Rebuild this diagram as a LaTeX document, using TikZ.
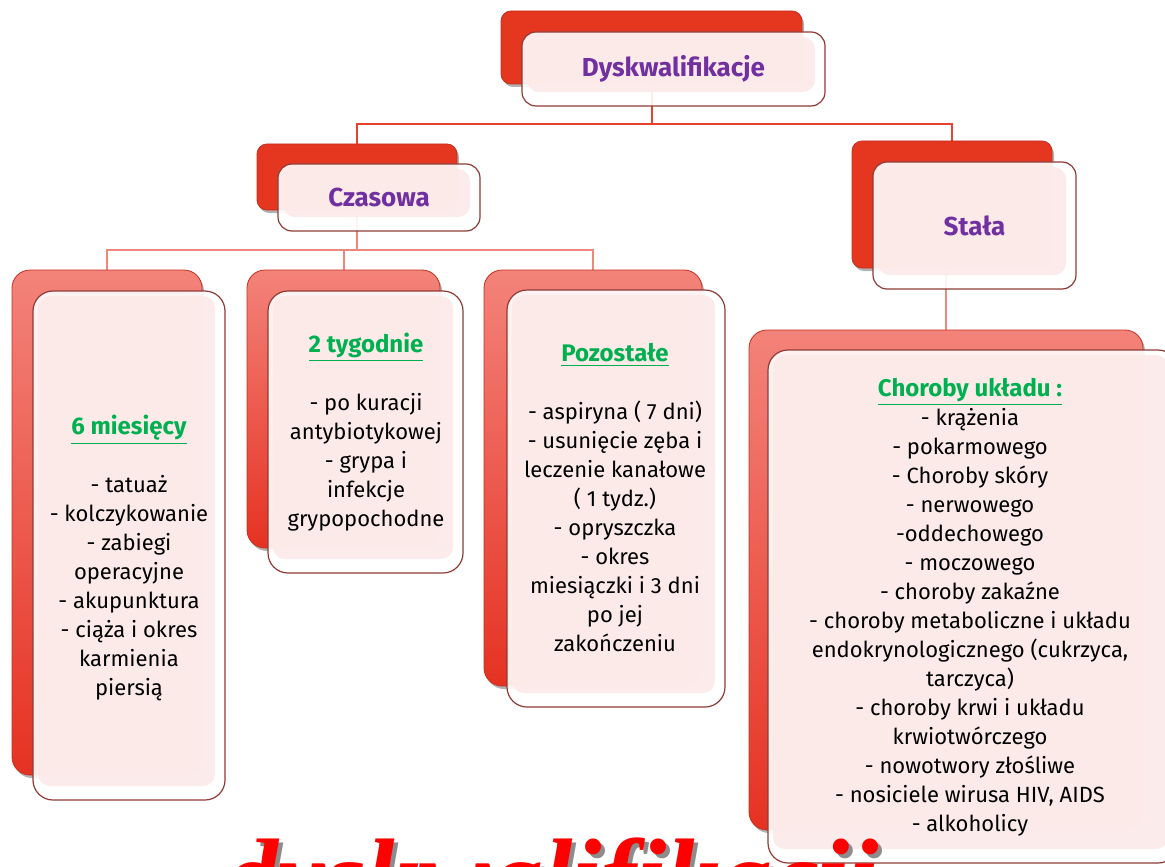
\documentclass[tikz,border=0pt]{standalone}
\usepackage{fontspec}
\setmainfont{Fira Sans}
\newfontfamily\bigserif{Liberation Serif}
\usetikzlibrary{backgrounds,shadows}

\definecolor{bigred}{HTML}{E5361F}
\definecolor{redtop}{HTML}{F3837A}
\definecolor{redbot}{HTML}{E53222}
\definecolor{redline}{HTML}{C2301F}
\definecolor{frame}{HTML}{8E3B36}
\definecolor{pinkfill}{HTML}{FCEAE9}
\definecolor{linkred}{HTML}{E8412F}
\definecolor{linksalmon}{HTML}{F0877D}
\definecolor{titlepurple}{HTML}{7030A0}
\definecolor{titlegreen}{HTML}{00B050}
\definecolor{wordred}{HTML}{FF0000}

\tikzset{every node/.style={inner sep=0pt,outer sep=0pt}}
\tikzset{topback/.style={rounded corners=5pt,draw=redline,line width=0.4pt,fill=bigred,
    drop shadow={shadow xshift=1pt,shadow yshift=-1.5pt,opacity=.3,fill=black}}}
\tikzset{lowback/.style={rounded corners=9pt,draw=redline,line width=0.4pt,top color=redtop,bottom color=redbot,
    drop shadow={shadow xshift=1pt,shadow yshift=-1.5pt,opacity=.3,fill=black}}}
\tikzset{front/.style={rounded corners=7pt,draw=frame,line width=0.6pt,fill=white,fill opacity=0.9,text opacity=1,
    path picture={\fill[pinkfill,rounded corners=6pt]
      ([shift={(2.5pt,-2.5pt)}]path picture bounding box.north west) rectangle
      ([shift={(-5pt,7pt)}]path picture bounding box.south east);}}}
\tikzset{bigfront/.style={front,rounded corners=10pt}}
\tikzset{head/.style={text=titlepurple,font=\fontsize{13}{15}\selectfont\bfseries}}
\tikzset{list/.style={align=center,text=black}}
\tikzset{link/.style={draw=linkred,line width=1pt}}
\tikzset{sublink/.style={draw=linksalmon,line width=1pt}}

\newcommand{\boxtitle}[1]{{\color{titlegreen}\fontsize{12}{14.5}\selectfont\bfseries\underline{#1}}}

\begin{document}
\begin{tikzpicture}[x=0.5pt,y=-0.5pt,font=\fontsize{11}{14.5}\selectfont]
  \clip (0,0) rectangle (1165,866);
  % red boxes behind
  \node[topback,minimum width=150.5pt,minimum height=36.5pt] (dyskB) at (651.5,47.5) {};
  \node[topback,minimum width=100pt,minimum height=33pt] (czasB) at (357,177) {};
  \node[topback,minimum width=100pt,minimum height=63.5pt] (stalB) at (952,204.5) {};
  \node[lowback,minimum width=95pt,minimum height=252.5pt] (miesB) at (107,522.5) {};
  \node[lowback,minimum width=96.5pt,minimum height=139pt] (tygB) at (343.5,409) {};
  \node[lowback,minimum width=109pt,minimum height=208pt] (pozB) at (593,478) {};
  \node[lowback,minimum width=197pt,minimum height=250pt] (chorB) at (946,580) {};
  % light boxes in front
  \node[front,head,minimum width=151.5pt,minimum height=37pt] (dyskF) at (673.5,69) {Dyskwalifikacje};
  \node[front,head,minimum width=101pt,minimum height=33.5pt] (czasF) at (379,197.5) {Czasowa};
  \node[front,head,minimum width=101.5pt,minimum height=63.5pt] (stalF) at (974.5,225.5) {Stała};
  \node[bigfront,minimum width=96pt,minimum height=254.5pt] (miesF) at (129,545.5) {};
  \node[bigfront,minimum width=97.5pt,minimum height=141pt] (tygF) at (365.5,432) {};
  \node[bigfront,minimum width=109pt,minimum height=208.5pt] (pozF) at (616,498.5) {};
  \node[bigfront,minimum width=205pt,minimum height=256.5pt] (chorF) at (973,606.5) {};
  % texts
  \node[list] (miesT) at (129,558) {\boxtitle{6 miesięcy}\\[14.5pt]
    - tatuaż\\ - kolczykowanie\\ - zabiegi\\ operacyjne\\ - akupunktura\\
    - ciąża i okres\\ karmienia\\ piersią};
  \node[list] (tygT) at (366,432) {\boxtitle{2 tygodnie}\\[14.5pt]
    - po kuracji\\ antybiotykowej\\ - grypa i\\ infekcje\\ grypopochodne};
  \node[list] (pozT) at (615,498) {\boxtitle{Pozostałe}\\[14.5pt]
    - aspiryna ( 7 dni)\\ - usunięcie zęba i\\ leczenie kanałowe\\ ( 1 tydz.)\\
    - opryszczka\\ - okres\\ miesiączki i 3 dni\\ po jej\\ zakończeniu};
  \node[list] (chorT) at (970,607) {\boxtitle{Choroby układu :}\\
    - krążenia\\ - pokarmowego\\ - Choroby skóry\\ - nerwowego\\ -oddechowego\\
    - moczowego\\ - choroby zakaźne\\ - choroby metaboliczne i układu\\
    endokrynologicznego (cukrzyca,\\ tarczyca)\\ - choroby krwi i układu\\
    krwiotwórczego\\ - nowotwory złośliwe\\ - nosiciele wirusa HIV, AIDS\\ - alkoholicy};
  % connectors
  \coordinate (fork1) at (0,124);
  \coordinate (fork2) at (0,250);
  \begin{scope}[on background layer]
    \draw[link] (dyskB.center) -- (dyskB.center |- fork1) -| (czasB.center);
    \draw[link] (dyskB.center |- fork1) -| (stalB.center);
    \foreach \b in {miesB,tygB,pozB}
      \draw[sublink] (czasB.center) -- (czasB.center |- fork2) -| (\b.center);
    \draw[sublink] (chorB.center) -- (chorB.center |- stalB.center);
  \end{scope}
  % big red word, mostly cut off
  \node[anchor=base west,text=black!45,font=\bigserif\fontsize{53}{60}\selectfont\bfseries\itshape] (wordS) at (229,916) {dyskwalifikacji};
  \node[anchor=base west,text=wordred,font=\bigserif\fontsize{53}{60}\selectfont\bfseries\itshape] (word) at (225,912) {dyskwalifikacji};
\end{tikzpicture}
\end{document}
